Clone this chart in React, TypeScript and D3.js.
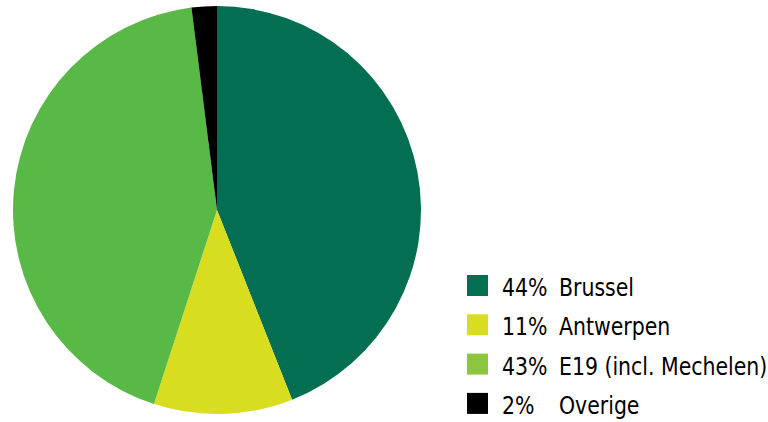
import React from "react";
import * as d3 from "d3";

const categories = ["Brussel", "Antwerpen", "E19 (incl. Mechelen)", "Overige"];
const values = [44, 11, 43, 2];
const pieColors = ["#036e51", "#d8dd1f", "#58b947", "#000000"];
const legendColors = ["#036e51", "#d8dd1f", "#8cc63f", "#000000"];

export default function App() {
  const width = 768;
  const height = 422;
  const cx = 217;
  const cy = 210;
  const r = 204;
  const pie = d3.pie<number>().sort(null).value((d) => d)(values);
  const arc = d3.arc<d3.PieArcDatum<number>>().innerRadius(0).outerRadius(r);
  const font = "'DejaVu Sans Condensed', 'Liberation Sans Narrow', sans-serif";
  const sx = 0.91;
  return (
    <svg width={width} height={height} style={{ position: "absolute", left: 0, top: 0, background: "#fff" }}>
      <g transform={`translate(${cx},${cy})`}>
        {pie.map((p, i) => (
          <path key={i} d={arc(p) || ""} fill={pieColors[i]} />
        ))}
      </g>
      <g>
        {categories.map((c, i) => {
          const y = 275 + i * 39.3;
          return (
            <g key={c}>
              <rect x={467} y={y} width={21} height={21} fill={legendColors[i]} />
              <text transform={`translate(502,${y + 21}) scale(${sx},1)`} fontFamily={font} fontSize={25} fill="#000">
                {values[i] + "%"}
              </text>
              <text transform={`translate(559,${y + 21}) scale(${sx},1)`} fontFamily={font} fontSize={25} fill="#000">
                {c}
              </text>
            </g>
          );
        })}
      </g>
    </svg>
  );
}
